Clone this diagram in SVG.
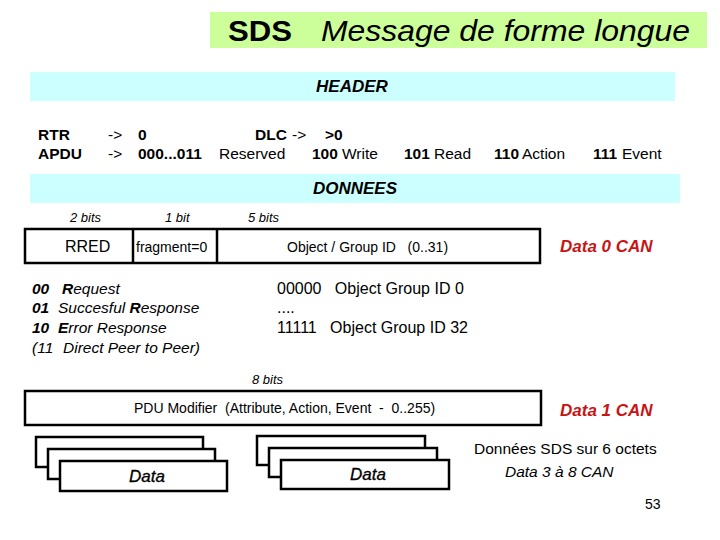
<svg xmlns="http://www.w3.org/2000/svg" width="720" height="540" viewBox="0 0 720 540">
<style>
text{font-family:"Liberation Sans",Arial,sans-serif;fill:#000;white-space:pre}
.b{font-weight:bold}
.i{font-style:italic}
.red{fill:#c81414;font-weight:bold;font-style:italic;font-size:17px}
.box{fill:#fff;stroke:#000;stroke-width:2.5}
.band{fill:#ccffff}
.row{font-size:15.5px}
.bits{font-size:13px;font-style:italic}
.lst{font-size:15.5px;font-style:italic}
.data{font-size:17px;font-style:italic;stroke:#000;stroke-width:0.3}
</style>
<rect width="720" height="540" fill="#fff"/>
<g id="title">
<rect x="210" y="12" width="497" height="36" fill="#ccff99"/>
<text x="228" y="41" class="b" font-size="30" textLength="64" lengthAdjust="spacingAndGlyphs">SDS</text>
<text x="321" y="41" class="i" font-size="30" textLength="369" lengthAdjust="spacingAndGlyphs">Message de forme longue</text>
</g>
<g id="header">
<rect x="30" y="72" width="645" height="29" class="band"/>
<text x="352" y="92" class="b i" font-size="17" text-anchor="middle">HEADER</text>
</g>
<g id="header-fields" class="row">
<text x="38" y="140" class="b row">RTR</text>
<text x="108" y="140" class="row">-&gt;</text>
<text x="138" y="140" class="b row">0</text>
<text x="255" y="140" class="b row">DLC</text>
<text x="292" y="140" class="row">-&gt;</text>
<text x="325" y="140" class="b row">&gt;0</text>
<text x="38" y="159" class="b row">APDU</text>
<text x="108" y="159" class="row">-&gt;</text>
<text x="138" y="159" class="b row">000...011</text>
<text x="219" y="159" class="row">Reserved</text>
<text x="312" y="159" class="b row">100</text>
<text x="342" y="159" class="row">Write</text>
<text x="404" y="159" class="b row">101</text>
<text x="434" y="159" class="row">Read</text>
<text x="494" y="159" class="b row">110</text>
<text x="522" y="159" class="row">Action</text>
<text x="593" y="159" class="b row">111</text>
<text x="622" y="159" class="row">Event</text>
</g>
<g id="donnees">
<rect x="30" y="174" width="650" height="29" class="band"/>
<text x="355" y="194" class="b i" font-size="17" text-anchor="middle">DONNEES</text>
</g>
<g id="bits-labels">
<text x="70" y="222" class="bits">2 bits</text>
<text x="165" y="222" class="bits">1 bit</text>
<text x="248" y="222" class="bits">5 bits</text>
<text x="252" y="384" class="bits">8 bits</text>
</g>
<g id="data0-frame">
<rect x="25" y="229" width="515" height="34" class="box"/>
<line x1="133" y1="229" x2="133" y2="263" stroke="#000" stroke-width="2.5"/>
<line x1="217" y1="229" x2="217" y2="263" stroke="#000" stroke-width="2.5"/>
<text x="65" y="252" font-size="16">RRED</text>
<text x="136" y="252" font-size="14">fragment=0</text>
<text x="287" y="252" font-size="14">Object / Group ID   (0..31)</text>
<text x="560" y="252" class="red">Data 0 CAN</text>
</g>
<g id="rred-codes" class="lst">
<text x="32" y="294" class="lst"><tspan class="b">00</tspan><tspan x="62" class="b">R</tspan>equest</text>
<text x="32" y="313" class="lst"><tspan class="b">01</tspan><tspan x="58">Succesful </tspan><tspan class="b">R</tspan>esponse</text>
<text x="32" y="333" class="lst"><tspan class="b">10</tspan><tspan x="58" class="b">E</tspan>rror Response</text>
<text x="32" y="353" class="lst">(11<tspan x="63">Direct Peer to Peer)</tspan></text>
</g>
<g id="group-ids">
<text x="277" y="294" font-size="16">00000   Object Group ID 0</text>
<text x="277" y="313" font-size="16">....</text>
<text x="277" y="333" font-size="16">11111   Object Group ID 32</text>
</g>
<g id="data1-frame">
<rect x="25" y="391" width="516" height="34" class="box"/>
<text x="134" y="413" font-size="14">PDU Modifier  (Attribute, Action, Event  -  0..255)</text>
<text x="560" y="416" class="red">Data 1 CAN</text>
</g>
<g id="data-stack-left">
<rect x="36" y="437" width="167" height="30" class="box"/>
<rect x="48" y="449" width="167" height="30" class="box"/>
<rect x="60" y="461" width="167" height="30" class="box"/>
<text x="129" y="482" class="data">Data</text>
</g>
<g id="data-stack-right">
<rect x="257" y="436" width="168" height="29" class="box"/>
<rect x="269" y="448" width="168" height="29" class="box"/>
<rect x="281" y="460" width="168" height="29" class="box"/>
<text x="350" y="480" class="data">Data</text>
</g>
<g id="sds-note">
<text x="474" y="454" font-size="15.5">Données SDS sur 6 octets</text>
<text x="505" y="477" class="i" font-size="15.5">Data 3 à 8 CAN</text>
</g>
<g id="page">
<text x="645" y="509" font-size="14">53</text>
</g>
</svg>
